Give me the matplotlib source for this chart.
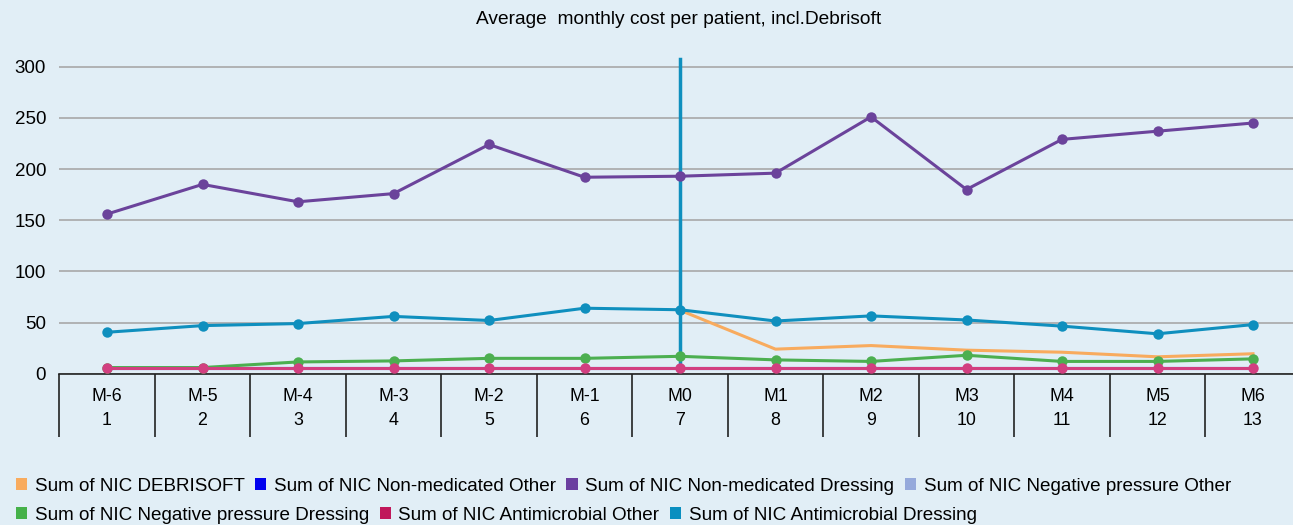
import matplotlib
matplotlib.use("Agg")
import matplotlib.pyplot as plt
import numpy as np
from matplotlib.patches import Patch

plt.rcParams['font.family'] = ['Liberation Sans', 'DejaVu Sans']

months = ["M-6", "M-5", "M-4", "M-3", "M-2", "M-1", "M0", "M1", "M2", "M3", "M4", "M5", "M6"]
index = [1, 2, 3, 4, 5, 6, 7, 8, 9, 10, 11, 12, 13]
nan = np.nan

debrisoft = [nan, nan, nan, nan, nan, nan, 62, 24, 27.5, 23, 21, 16.5, 19.5]
nonmed_other = [6, 6, 6, 6, 6, 6, 6, 6, 6, 6, 6, 6, 6]
nonmed_dressing = [156, 185, 168, 176, 224, 192, 193, 196, 251, 180, 229, 237, 245]
negp_other = [6, 6, 6, 6, 6, 6, 6, 6, 6, 6, 6, 6, 6]
negp_dressing = [6, 6, 11.5, 12.5, 15, 15, 17, 13.5, 12, 18, 12, 12, 14.5]
anti_other = [6, 6, 6, 6, 6, 6, 6, 6, 6, 6, 6, 6, 6]
anti_dressing = [40.5, 47, 49, 56, 52, 64, 62.5, 51.5, 56.5, 52.5, 46.5, 39, 48]

series_names = [
    "Sum of NIC DEBRISOFT",
    "Sum of NIC Non-medicated Other",
    "Sum of NIC Non-medicated Dressing",
    "Sum of NIC Negative pressure Other",
    "Sum of NIC Negative pressure Dressing",
    "Sum of NIC Antimicrobial Other",
    "Sum of NIC Antimicrobial Dressing",
]
series_values = [debrisoft, nonmed_other, nonmed_dressing, negp_other,
                 negp_dressing, anti_other, anti_dressing]
line_colors = ["#f8ab5e", "#0000ee", "#6b439b", "#95a9db", "#4caf50", "#d23f80", "#0f8fbe"]
legend_colors = ["#f8ab5e", "#0000ee", "#6b3fa0", "#95a9db", "#45b14a", "#c0185b", "#0a8fc0"]
show_markers = [False, False, True, False, True, True, True]

marker_month = 7
marker_height = 307.5

bg = "#e1eef6"
fig = plt.figure(figsize=(12.93, 5.25), dpi=100, facecolor=bg)
ax = fig.add_axes([59.25 / 1293, (525 - 373.7) / 525, 1 - 59.25 / 1293, (373.7 - 56.5) / 525])
ax.set_facecolor(bg)

x = np.array(index)
for name, vals, col, mk in zip(series_names, series_values, line_colors, show_markers):
    ax.plot(x, vals, color=col, lw=2.2, marker="o" if mk else None, ms=7.5,
            markeredgewidth=0, solid_joinstyle="round", zorder=3)

# reference line at M0
ax.plot([marker_month, marker_month], [0, marker_height], color=line_colors[-1], lw=2.5, zorder=2)

ax.set_yticks([0, 50, 100, 150, 200, 250, 300])
ax.yaxis.grid(True, color="#a8a8a8", lw=1.2)
ax.set_axisbelow(True)
ax.tick_params(axis="y", length=0, pad=9.5, labelsize=13.5)

ax.set_xticks(x)
ax.set_xticklabels([f"{m}\n{i}" for m, i in zip(months, index)], fontsize=12.8, linespacing=1.6)
ax.set_xticks(np.arange(0.5, 14.5, 1), minor=True)
ax.tick_params(axis="x", which="major", length=0, pad=10)
ax.tick_params(axis="x", which="minor", length=45.5, width=1.2, color="#222222")

ax.set_xlim(0.5, 0.5 + (1293 - 59.25) / 95.5)
ax.set_ylim(0, 310)

for s in ["top", "right", "left"]:
    ax.spines[s].set_visible(False)
ax.spines["bottom"].set_color("#222222")
ax.spines["bottom"].set_linewidth(1.2)

fig.text(679 / 1293, 1 - 20 / 525, "Average  monthly cost per patient, incl.Debrisoft",
         ha="center", va="center", fontsize=13.8)

handles = [Patch(facecolor=c, edgecolor="none") for c in legend_colors]
common = dict(frameon=False, fontsize=13.6, handlelength=0.6, handleheight=0.6,
              handletextpad=0.4, columnspacing=0.55, borderaxespad=0, borderpad=0)
fig.legend(handles[:4], series_names[:4], loc="center left",
           bbox_to_anchor=(16 / 1293, 1 - 486.5 / 525), ncol=4, **common)
fig.legend(handles[4:], series_names[4:], loc="center left",
           bbox_to_anchor=(16 / 1293, 1 - 515.5 / 525), ncol=3, **common)

fig.savefig("out.png", dpi=100, facecolor=bg)
